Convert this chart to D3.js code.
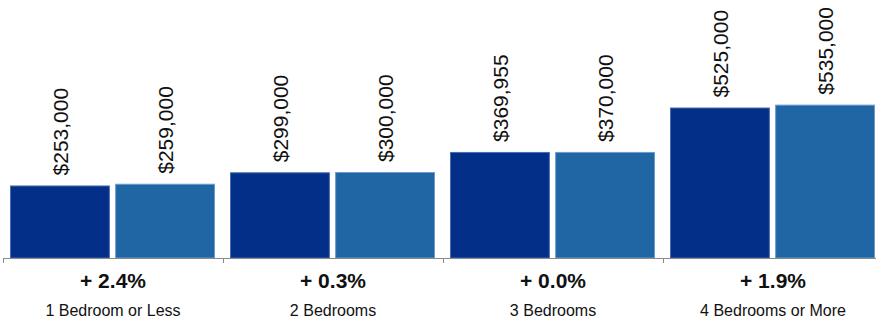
<!DOCTYPE html>
<html>
<head>
<meta charset="utf-8">
<script src="https://cdn.jsdelivr.net/npm/d3@7"></script>
<style>
  body { margin: 0; background: #fff; }
  text { font-family: "Liberation Sans", Arial, Helvetica, sans-serif; }
</style>
</head>
<body>
<div id="chart-area"></div>
<script>
const categories = ["1 Bedroom or Less", "2 Bedrooms", "3 Bedrooms", "4 Bedrooms or More"];
const prevValues = [253000, 299000, 369955, 525000];
const currValues = [259000, 300000, 370000, 535000];
const changes = ["+ 2.4%", "+ 0.3%", "+ 0.0%", "+ 1.9%"];

const width = 876;
const height = 323;
const baseY = 258;

const svg = d3.select('#chart-area')
    .append('svg')
    .attr('width', width)
    .attr('height', height);

const x0 = d3.scaleBand()
    .domain(categories)
    .range([3, 883]);

const x1 = d3.scaleBand()
    .domain(['prev', 'curr'])
    .range([7, 212])
    .paddingInner(0.05);

const y = d3.scaleLinear()
    .domain([0, 900000])
    .range([baseY, 0]);

const colors = { prev: '#032f88', curr: '#2066a5' };
const strokes = { prev: '#4a6db0', curr: '#6a9ccc' };

const rows = categories.map((c, i) => ({
    cat: c,
    bars: [
        { key: 'prev', value: prevValues[i] },
        { key: 'curr', value: currValues[i] }
    ],
    change: changes[i]
}));

const groups = svg.selectAll('g.group')
    .data(rows)
    .enter()
    .append('g')
    .attr('class', 'group')
    .attr('transform', d => `translate(${x0(d.cat)},0)`);

groups.selectAll('rect')
    .data(d => d.bars)
    .enter()
    .append('rect')
    .attr('x', d => x1(d.key) + 0.5)
    .attr('y', d => y(d.value) + 0.5)
    .attr('width', x1.bandwidth() - 1)
    .attr('height', d => baseY - y(d.value) - 0.5)
    .attr('fill', d => colors[d.key])
    .attr('stroke', d => strokes[d.key])
    .attr('stroke-width', 1);

groups.selectAll('text.val')
    .data(d => d.bars)
    .enter()
    .append('text')
    .attr('class', 'val')
    .attr('transform', d => `translate(${x1(d.key) + x1.bandwidth() / 2 + 8},${y(d.value) - 10}) rotate(-90)`)
    .attr('text-anchor', 'start')
    .attr('font-size', '21px')
    .attr('fill', '#111')
    .text(d => '$' + d3.format(',')(d.value));

// axis line and ticks at band boundaries
const axis = svg.append('g').attr('class', 'x axis');
axis.append('line')
    .attr('x1', 3).attr('x2', width)
    .attr('y1', baseY + 0.5).attr('y2', baseY + 0.5)
    .attr('stroke', '#8a8a8a');
axis.selectAll('line.tick')
    .data(categories)
    .enter()
    .append('line')
    .attr('class', 'tick')
    .attr('x1', d => x0(d) + 0.5).attr('x2', d => x0(d) + 0.5)
    .attr('y1', baseY).attr('y2', baseY + 5)
    .attr('stroke', '#8a8a8a');

groups.append('text')
    .attr('x', x0.bandwidth() / 2)
    .attr('y', 288)
    .attr('text-anchor', 'middle')
    .attr('font-size', '21px')
    .attr('font-weight', 'bold')
    .attr('fill', '#111')
    .text(d => d.change);

groups.append('text')
    .attr('x', x0.bandwidth() / 2)
    .attr('y', 316)
    .attr('text-anchor', 'middle')
    .attr('font-size', '16px')
    .attr('fill', '#111')
    .text(d => d.cat);
</script>
</body>
</html>
